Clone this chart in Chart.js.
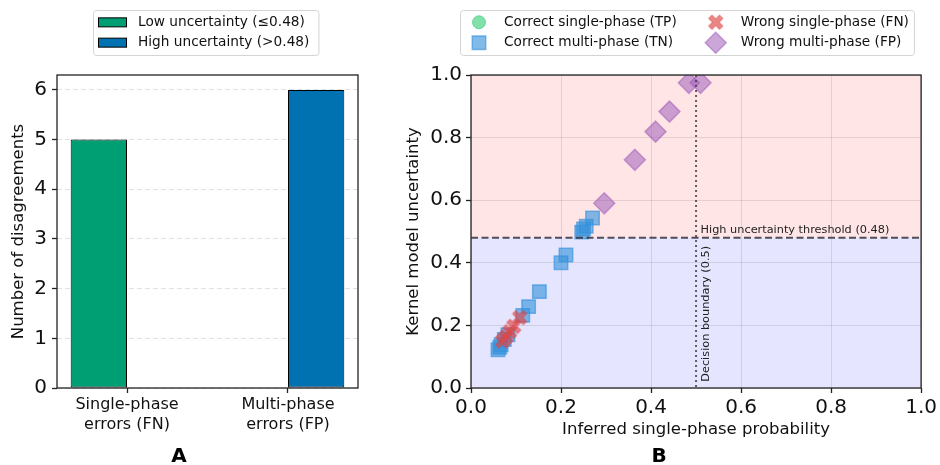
<!DOCTYPE html>
<html>
<head>
<meta charset="utf-8">
<script src="https://cdn.jsdelivr.net/npm/chart.js@4.4.1/dist/chart.umd.min.js"></script>
<style>
  html, body { margin: 0; padding: 0; background: #fff; }
  #wrap { position: relative; width: 940px; height: 465px; overflow: hidden; }
  canvas { position: absolute; top: 0; }
  #barChart { left: 0; }
  #scatterChart { left: 395px; }
</style>
</head>
<body>
<div id="wrap">
  <canvas id="barChart" width="395" height="465"></canvas>
  <canvas id="scatterChart" width="545" height="465"></canvas>
</div>
<script>
// Panel A: disagreements by error type
const errorTypes = [["Single-phase", "errors (FN)"], ["Multi-phase", "errors (FP)"]]
const lowUncertainty = [5, 0]
const highUncertainty = [0, 6]
const countTicks = [0, 1, 2, 3, 4, 5, 6]

// Panel B: probability vs kernel uncertainty
const probTicks = [0, 0.2, 0.4, 0.6, 0.8, 1.0]
const uncTicks = [0, 0.2, 0.4, 0.6, 0.8, 1.0]
const tpProb = []
const tpUnc = []
const tnProb = [0.060, 0.064, 0.067, 0.074, 0.082, 0.115, 0.128, 0.152, 0.200, 0.211, 0.246, 0.250, 0.256, 0.270]
const tnUnc = [0.122, 0.130, 0.138, 0.155, 0.170, 0.232, 0.260, 0.308, 0.400, 0.425, 0.498, 0.508, 0.517, 0.543]
const fnProb = [0.070, 0.078, 0.086, 0.095, 0.108]
const fnUnc = [0.150, 0.163, 0.180, 0.197, 0.225]
const fpProb = [0.296, 0.364, 0.410, 0.441, 0.484, 0.510]
const fpUnc = [0.590, 0.729, 0.819, 0.883, 0.975, 0.975]
const uncertaintyThreshold = 0.48
const decisionBoundary = 0.5

Chart.defaults.font.family = "'DejaVu Sans', sans-serif"
Chart.defaults.color = "#111"

const toPoints = (xs, ys) => xs.map((x, i) => ({ x: x, y: ys[i] }))

// filled "X" marker like matplotlib's
function makeCross(fill, stroke) {
  const c = document.createElement("canvas")
  c.width = c.height = 18
  const ctx = c.getContext("2d")
  const a = 2.3, L = 7.6
  const pts = [[a, a], [a, L], [-a, L], [-a, a], [-L, a], [-L, -a], [-a, -a], [-a, -L], [a, -L], [a, -a], [L, -a], [L, a]]
  ctx.translate(9, 9)
  ctx.rotate(Math.PI / 4)
  ctx.beginPath()
  pts.forEach(([px, py], i) => (i ? ctx.lineTo(px, py) : ctx.moveTo(px, py)))
  ctx.closePath()
  ctx.fillStyle = fill
  ctx.fill()
  ctx.strokeStyle = stroke
  ctx.lineWidth = 1
  ctx.stroke()
  return c
}

function drawMarker(ctx, ds, x, y) {
  const style = ds.pointStyle
  if (style instanceof HTMLCanvasElement) {
    ctx.drawImage(style, x - style.width / 2, y - style.height / 2)
    return
  }
  const r = ds.pointRadius
  ctx.fillStyle = ds.backgroundColor
  ctx.strokeStyle = ds.borderColor
  ctx.lineWidth = ds.borderWidth
  ctx.beginPath()
  if (style === "circle") {
    ctx.arc(x, y, r, 0, Math.PI * 2)
  } else if (style === "rect") {
    const s = r * Math.SQRT1_2
    ctx.rect(x - s, y - s, 2 * s, 2 * s)
  } else {
    ctx.moveTo(x - r, y)
    ctx.lineTo(x, y - r)
    ctx.lineTo(x + r, y)
    ctx.lineTo(x, y + r)
    ctx.closePath()
  }
  ctx.fill()
  ctx.stroke()
}

// matplotlib-like boxed legend, columns filled top to bottom
const frameLegend = {
  id: "frameLegend",
  afterDraw(chart, args, o) {
    const ctx = chart.ctx
    const sets = chart.data.datasets
    const rows = Math.ceil(sets.length / o.ncol)
    ctx.save()
    ctx.font = o.fontSize + "px 'DejaVu Sans'"
    const colW = []
    sets.forEach((ds, i) => {
      const c = Math.floor(i / rows)
      colW[c] = Math.max(colW[c] || 0, o.handleW + o.gap + ctx.measureText(ds.label).width)
    })
    const w = o.padL + colW.reduce((a, b) => a + b, 0) + o.colGap * (colW.length - 1) + o.padR
    const h = o.padT * 2 + rows * o.rowH
    ctx.beginPath()
    ctx.roundRect(o.left + 0.5, o.top + 0.5, w, h, 3)
    ctx.fillStyle = "rgba(255,255,255,0.8)"
    ctx.fill()
    ctx.strokeStyle = "#d4d4d4"
    ctx.lineWidth = 1
    ctx.stroke()
    sets.forEach((ds, i) => {
      const c = Math.floor(i / rows)
      const r = i % rows
      let x = o.left + o.padL
      for (let k = 0; k < c; k++) x += colW[k] + o.colGap
      const y = o.top + o.padT + r * o.rowH + o.rowH / 2
      if (chart.config.type === "bar") {
        ctx.fillStyle = ds.backgroundColor
        ctx.fillRect(x, y - 4.5, o.handleW, 9)
        ctx.strokeStyle = ds.borderColor
        ctx.lineWidth = 1
        ctx.strokeRect(x + 0.5, y - 4.5, o.handleW - 1, 9)
      } else {
        drawMarker(ctx, ds, x + o.handleW / 2, y)
      }
      ctx.fillStyle = "#111"
      ctx.textBaseline = "middle"
      ctx.textAlign = "left"
      ctx.fillText(ds.label, x + o.handleW + o.gap, y)
    })
    ctx.restore()
  },
}

// axes frame on all four sides
const spines = {
  id: "spines",
  afterDatasetsDraw(chart) {
    const { ctx, chartArea: a } = chart
    ctx.save()
    ctx.strokeStyle = "#222"
    ctx.lineWidth = 1.3
    ctx.strokeRect(a.left, a.top, a.right - a.left, a.bottom - a.top)
    ctx.restore()
  },
}

// shaded uncertainty regions behind panel B
const regions = {
  id: "regions",
  beforeDraw(chart) {
    const { ctx, chartArea: a, scales } = chart
    const yT = scales.y.getPixelForValue(uncertaintyThreshold)
    ctx.save()
    ctx.fillStyle = "rgba(255,0,0,0.1)"
    ctx.fillRect(a.left, a.top, a.right - a.left, yT - a.top)
    ctx.fillStyle = "rgba(0,0,255,0.1)"
    ctx.fillRect(a.left, yT, a.right - a.left, a.bottom - yT)
    ctx.restore()
  },
}

// threshold / decision boundary lines and their labels
const guides = {
  id: "guides",
  afterDatasetsDraw(chart) {
    const { ctx, chartArea: a, scales } = chart
    const yT = scales.y.getPixelForValue(uncertaintyThreshold)
    const xB = scales.x.getPixelForValue(decisionBoundary)
    ctx.save()
    ctx.strokeStyle = "rgba(50,50,60,0.85)"
    ctx.lineWidth = 1.8
    ctx.setLineDash([7, 3.5])
    ctx.beginPath()
    ctx.moveTo(a.left, yT)
    ctx.lineTo(a.right, yT)
    ctx.stroke()
    ctx.strokeStyle = "rgba(60,60,60,0.8)"
    ctx.lineWidth = 2
    ctx.setLineDash([2, 3])
    ctx.beginPath()
    ctx.moveTo(xB, a.top)
    ctx.lineTo(xB, a.bottom)
    ctx.stroke()
    ctx.setLineDash([])
    ctx.fillStyle = "#222"
    ctx.font = "11.3px 'DejaVu Sans'"
    ctx.textAlign = "left"
    ctx.textBaseline = "bottom"
    ctx.fillText("High uncertainty threshold (0.48)", scales.x.getPixelForValue(0.51), scales.y.getPixelForValue(0.485))
    ctx.translate(scales.x.getPixelForValue(0.51), scales.y.getPixelForValue(0.02))
    ctx.rotate(-Math.PI / 2)
    ctx.textBaseline = "top"
    ctx.fillText("Decision boundary (0.5)", 0, 0)
    ctx.restore()
  },
}

const tickGrid = (color) => ({ color: color, tickColor: "#222", tickLength: 5, tickWidth: 1.3 })

// Panel A
new Chart(document.getElementById("barChart"), {
  type: "bar",
  data: {
    datasets: [
      {
        label: "Low uncertainty (\u22640.48)",
        data: lowUncertainty.map((v, i) => ({ x: i, y: v })),
        backgroundColor: "#009E73",
        borderColor: "#000",
        borderWidth: 1,
        borderSkipped: false,
        categoryPercentage: 0.7,
        barPercentage: 1.0,
      },
      {
        label: "High uncertainty (>0.48)",
        data: highUncertainty.map((v, i) => ({ x: i, y: v })),
        backgroundColor: "#0072B2",
        borderColor: "#000",
        borderWidth: 1,
        borderSkipped: false,
        categoryPercentage: 0.7,
        barPercentage: 1.0,
      },
    ],
  },
  options: {
    responsive: false,
    animation: false,
    events: [],
    layout: { padding: { top: 75, right: 37, bottom: 0, left: 0 } },
    plugins: {
      legend: { display: false },
      tooltip: { enabled: false },
      title: { display: true, text: "A", position: "bottom", color: "#000", font: { size: 20, weight: "bold", lineHeight: 0.8 }, padding: 0 },
      frameLegend: { left: 93, top: 10, ncol: 1, rowH: 20.3, padT: 2.2, padL: 5, padR: 9, handleW: 29, gap: 11, colGap: 0, fontSize: 13.7 },
    },
    scales: {
      x: {
        type: "linear",
        offset: false,
        min: -0.435,
        max: 1.435,
        afterBuildTicks: (s) => { s.ticks = errorTypes.map((_, i) => ({ value: i })) },
        ticks: { callback: (v) => errorTypes[v], font: { size: 16, lineHeight: 1.25 }, padding: 2 },
        grid: Object.assign(tickGrid("rgba(0,0,0,0)"), { drawOnChartArea: false, offset: false }),
        border: { display: false },
        afterFit: (s) => { s.height = 61 },
      },
      y: {
        min: 0,
        max: 6.3,
        afterBuildTicks: (s) => { s.ticks = countTicks.map((v) => ({ value: v })) },
        ticks: { font: { size: 20 }, padding: 5 },
        grid: tickGrid("rgba(0,0,0,0.12)"),
        border: { display: false, dash: [5, 3] },
        title: { display: true, text: "Number of disagreements", font: { size: 16.5 }, padding: { top: 9, bottom: 0 } },
        afterFit: (s) => { s.width = 57 },
      },
    },
  },
  plugins: [spines, frameLegend],
})

// Panel B (lower order is drawn on top, as later scatter calls in the original)
new Chart(document.getElementById("scatterChart"), {
  type: "scatter",
  data: {
    datasets: [
      {
        label: "Correct single-phase (TP)",
        data: toPoints(tpProb, tpUnc),
        order: 3,
        pointStyle: "circle",
        pointRadius: 6.5,
        backgroundColor: "rgba(46,204,113,0.6)",
        borderColor: "rgba(46,204,113,0.6)",
        borderWidth: 1,
      },
      {
        label: "Correct multi-phase (TN)",
        data: toPoints(tnProb, tnUnc),
        order: 2,
        pointStyle: "rect",
        pointRadius: 9.5,
        backgroundColor: "rgba(52,145,220,0.62)",
        borderColor: "rgba(52,145,220,0.62)",
        borderWidth: 1.5,
      },
      {
        label: "Wrong single-phase (FN)",
        data: toPoints(fnProb, fnUnc),
        order: 1,
        pointStyle: makeCross("rgba(222,70,70,0.65)", "rgba(222,70,70,0.65)"),
        pointRadius: 8,
        backgroundColor: "rgba(222,70,70,0.65)",
        borderColor: "rgba(222,70,70,0.65)",
        borderWidth: 1,
      },
      {
        label: "Wrong multi-phase (FP)",
        data: toPoints(fpProb, fpUnc),
        order: 0,
        pointStyle: "rectRot",
        pointRadius: 10.5,
        backgroundColor: "rgba(160,95,185,0.55)",
        borderColor: "rgba(160,95,185,0.55)",
        borderWidth: 1.5,
      },
    ],
  },
  options: {
    responsive: false,
    animation: false,
    events: [],
    layout: { padding: { top: 75, right: 17, bottom: 0, left: 0 } },
    plugins: {
      legend: { display: false },
      tooltip: { enabled: false },
      title: { display: true, text: "B", position: "bottom", color: "#000", font: { size: 20, weight: "bold", lineHeight: 0.8 }, padding: 0 },
      frameLegend: { left: 65, top: 10, ncol: 2, rowH: 20.5, padT: 2, padL: 9, padR: 5, handleW: 20, gap: 15, colGap: 29, fontSize: 13.7 },
    },
    scales: {
      x: {
        type: "linear",
        min: 0,
        max: 1,
        afterBuildTicks: (s) => { s.ticks = probTicks.map((v) => ({ value: v })) },
        ticks: { callback: (v) => v.toFixed(1), font: { size: 20 }, padding: 3 },
        grid: tickGrid("rgba(0,0,0,0.1)"),
        border: { display: false },
        title: { display: true, text: "Inferred single-phase probability", font: { size: 16.5 }, padding: { top: 0, bottom: 9 } },
        afterFit: (s) => { s.height = 61 },
      },
      y: {
        min: 0,
        max: 1,
        afterBuildTicks: (s) => { s.ticks = uncTicks.map((v) => ({ value: v })) },
        ticks: { callback: (v) => v.toFixed(1), font: { size: 20 }, padding: 4 },
        grid: tickGrid("rgba(0,0,0,0.1)"),
        border: { display: false },
        title: { display: true, text: "Kernel model uncertainty", font: { size: 16.5 }, padding: { top: 9, bottom: 0 } },
        afterFit: (s) => { s.width = 76 },
      },
    },
  },
  plugins: [regions, spines, guides, frameLegend],
})
</script>
</body>
</html>
